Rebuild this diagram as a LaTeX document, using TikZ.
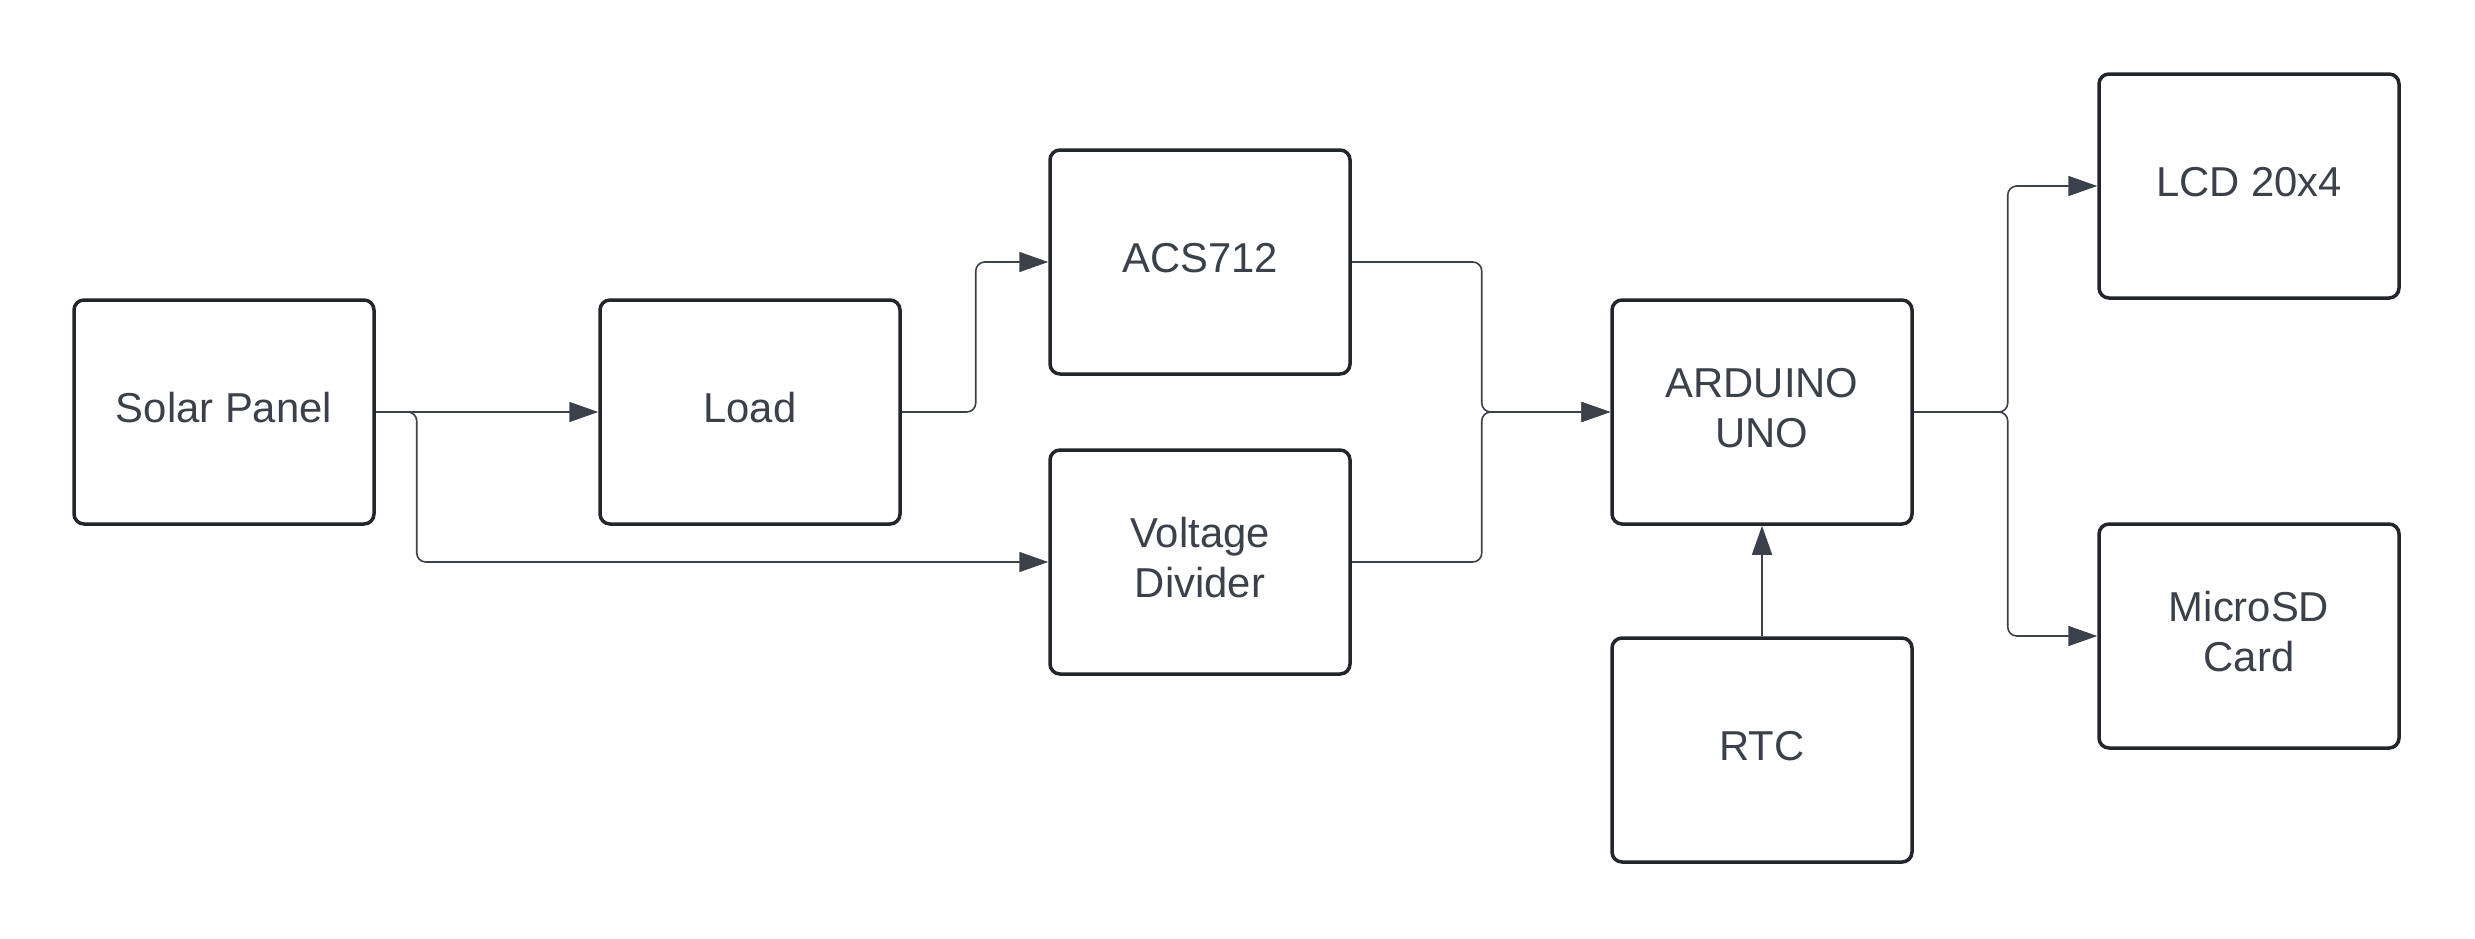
\documentclass[tikz,border=0pt]{standalone}
\usepackage{fontspec}
\setmainfont{Liberation Sans}
\usetikzlibrary{arrows.meta}
\definecolor{boxline}{RGB}{34,38,44}
\definecolor{txt}{RGB}{58,65,74}
\definecolor{wire}{RGB}{58,65,74}
\newcommand{\bt}[1]{\raisebox{4pt}{\begin{tabular}{@{}c@{}}#1\end{tabular}}}
\tikzset{
  blk/.style={draw=boxline, line width=3.5pt, rounded corners=10pt, minimum width=300pt, minimum height=224pt, inner sep=0pt, align=center, text=txt, font=\fontsize{41.8}{50}\selectfont, fill=white},
  conn/.style={draw=wire, line width=1.6pt, rounded corners=9pt, -{Triangle[length=29pt,width=20pt]}}
}
\begin{document}
\begin{tikzpicture}[x=1pt,y=-1pt]
\useasboundingbox[fill=white] (0,0) rectangle (2475,938);
\node[blk] (solar) at (224,412) {\bt{Solar Panel}};
\node[blk] (load) at (750,412) {\bt{Load}};
\node[blk] (acs) at (1200,262) {\bt{ACS712}};
\node[blk] (vd) at (1200,562) {\bt{Voltage\\Divider}};
\node[blk] (ard) at (1762,412) {\bt{ARDUINO\\UNO}};
\node[blk] (rtc) at (1762,750) {\bt{RTC}};
\node[blk] (lcd) at (2249,186) {\bt{LCD 20x4}};
\node[blk] (sd) at (2249,636) {\bt{MicroSD\\Card}};
\draw[conn] (solar.east) -- (load.west);
\draw[conn] (solar.east) -- ++(41,0) |- (vd.west);
\draw[conn] (load.east) -- ++(74,0) |- (acs.west);
\draw[conn] (acs.east) -- ++(130,0) |- (ard.west);
\draw[conn] (vd.east) -- ++(130,0) |- (ard.west);
\draw[conn] (rtc.north) -- (ard.south);
\draw[conn] (ard.east) -- ++(94,0) |- (lcd.west);
\draw[conn] (ard.east) -- ++(94,0) |- (sd.west);
\end{tikzpicture}
\end{document}
